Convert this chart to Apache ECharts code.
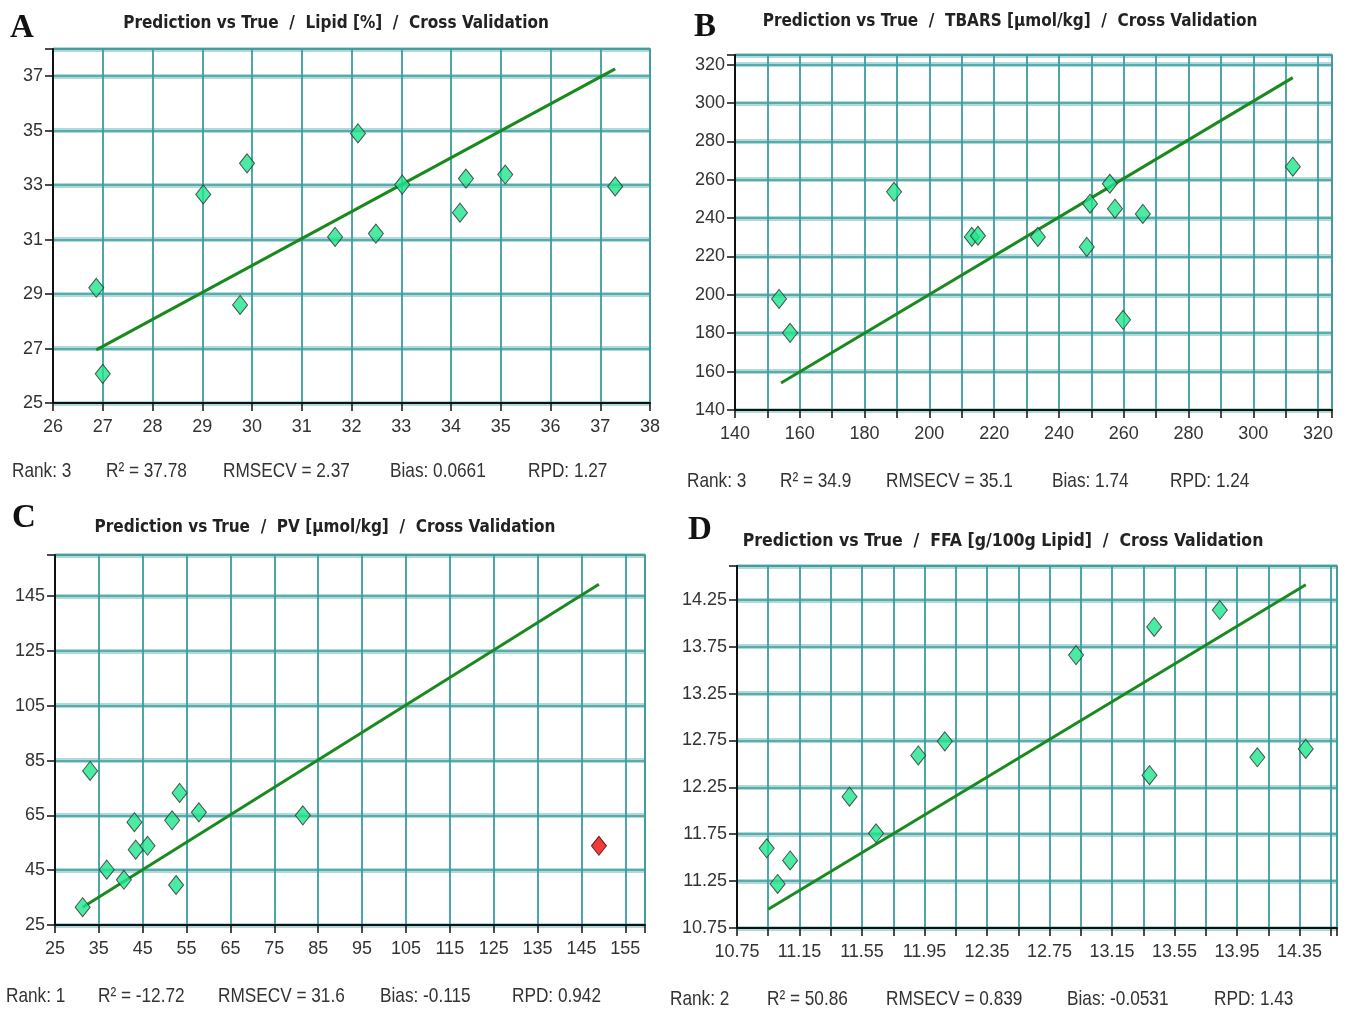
<!DOCTYPE html>
<html>
<head>
<meta charset="utf-8">
<style>
  html, body { margin: 0; padding: 0; background: #fff; }
  #chart { width: 1349px; height: 1015px; }
</style>
<script src="https://cdn.jsdelivr.net/npm/echarts@6/dist/echarts.min.js"></script>
</head>
<body>
<div id="chart"></div>
<script>
// Panel A - Lipid [%]
const lipidTrue = [26.87, 27.0, 29.02, 29.9, 29.76, 32.13, 31.67, 32.49, 33.02, 34.18, 34.3, 35.09, 37.3];
const lipidPred = [29.23, 26.07, 32.66, 33.8, 28.6, 34.9, 31.1, 31.22, 33.02, 31.99, 33.24, 33.39, 32.95];
const lipidFit = [[26.87, 26.95], [37.3, 37.27]];

// Panel B - TBARS [µmol/kg]
const tbarsTrue = [153.6, 157.0, 189.1, 213.1, 215.0, 233.5, 248.6, 249.6, 255.7, 257.3, 265.9, 259.8, 312.2];
const tbarsPred = [197.9, 180.2, 253.7, 230.2, 230.8, 230.2, 225.0, 247.5, 257.9, 244.9, 242.2, 187.0, 266.8];
const tbarsFit = [[154.2, 154.1], [312.2, 313.2]];

// Panel C - PV [µmol/kg], last sample flagged red
const pvTrue = [31.3, 33.0, 36.8, 40.7, 43.1, 43.4, 46.1, 51.7, 53.4, 52.6, 57.8, 81.5];
const pvPred = [31.5, 81.2, 45.2, 41.5, 62.5, 52.5, 53.9, 63.2, 73.2, 39.6, 66.1, 65.0];
const pvOutlier = [[149.0, 53.9]];
const pvFit = [[31.3, 31.5], [149.0, 149.3]];

// Panel D - FFA [g/100g Lipid]
const ffaTrue = [10.94, 11.01, 11.09, 11.47, 11.64, 11.91, 12.08, 12.92, 13.39, 13.42, 13.84, 14.08, 14.39];
const ffaPred = [11.60, 11.22, 11.47, 12.15, 11.76, 12.59, 12.74, 13.66, 12.38, 13.96, 14.14, 12.57, 12.66];
const ffaFit = [[10.95, 10.95], [14.39, 14.41]];

const titles = [
  "Prediction vs True  /  Lipid [%]  /  Cross Validation",
  "Prediction vs True  /  TBARS [µmol/kg]  /  Cross Validation",
  "Prediction vs True  /  PV [µmol/kg]  /  Cross Validation",
  "Prediction vs True  /  FFA [g/100g Lipid]  /  Cross Validation",
];
const letters = ["A", "B", "C", "D"];
const stats = [
  ["Rank: 3", "R² = 37.78", "RMSECV = 2.37", "Bias: 0.0661", "RPD: 1.27"],
  ["Rank: 3", "R² = 34.9", "RMSECV = 35.1", "Bias: 1.74", "RPD: 1.24"],
  ["Rank: 1", "R² = -12.72", "RMSECV = 31.6", "Bias: -0.115", "RPD: 0.942"],
  ["Rank: 2", "R² = 50.86", "RMSECV = 0.839", "Bias: -0.0531", "RPD: 1.43"],
];

// axis label values that are printed (others only get a grid line)
const xLabelsA = [26, 27, 28, 29, 30, 31, 32, 33, 34, 35, 36, 37, 38];
const yLabelsA = [25, 27, 29, 31, 33, 35, 37];
const xLabelsB = [140, 160, 180, 200, 220, 240, 260, 280, 300, 320];
const yLabelsB = [140, 160, 180, 200, 220, 240, 260, 280, 300, 320];
const xLabelsC = [25, 35, 45, 55, 65, 75, 85, 95, 105, 115, 125, 135, 145, 155];
const yLabelsC = [25, 45, 65, 85, 105, 125, 145];
const xLabelsD = [10.75, 11.15, 11.55, 11.95, 12.35, 12.75, 13.15, 13.55, 13.95, 14.35];
const yLabelsD = [10.75, 11.25, 11.75, 12.25, 12.75, 13.25, 13.75, 14.25];

const TEAL = "#3a9ea0";
const LABEL_FONT = "'Liberation Sans', Arial, sans-serif";

const panels = [
  { grid: { left: 53, top: 49, width: 597, height: 354 },
    x: { min: 26, max: 38, interval: 1, labels: xLabelsA, digits: 0 },
    y: { min: 25, max: 38, interval: 2, labels: yLabelsA, digits: 0 },
    titleX: 331, titleY: 10, letterX: 10, letterY: 28,
    statsY: 471, statsX: [12, 106, 223, 390, 528] },
  { grid: { left: 735, top: 55, width: 597, height: 355 },
    x: { min: 140, max: 324.3, interval: 10, labels: xLabelsB, digits: 0 },
    y: { min: 140, max: 325, interval: 20, labels: yLabelsB, digits: 0 },
    titleX: 1005, titleY: 8, letterX: 694, letterY: 27,
    statsY: 481, statsX: [687, 780, 886, 1052, 1170] },
  { grid: { left: 55, top: 555, width: 590, height: 370 },
    x: { min: 25, max: 159.5, interval: 10, labels: xLabelsC, digits: 0 },
    y: { min: 25, max: 160, interval: 20, labels: yLabelsC, digits: 0 },
    titleX: 320, titleY: 514, letterX: 12, letterY: 518,
    statsY: 996, statsX: [6, 98, 218, 380, 512] },
  { grid: { left: 737, top: 566, width: 600, height: 362 },
    x: { min: 10.75, max: 14.59, interval: 0.2, labels: xLabelsD, digits: 2 },
    y: { min: 10.75, max: 14.61, interval: 0.5, labels: yLabelsD, digits: 2 },
    titleX: 998, titleY: 527, letterX: 688, letterY: 530,
    statsY: 999, statsX: [670, 767, 886, 1067, 1214] },
];

function labelFormatter(axis) {
  return (v) => {
    const hit = axis.labels.some((l) => Math.abs(l - v) < 1e-6);
    return hit ? v.toFixed(axis.digits) : "";
  };
}

const grids = [];
const xAxes = [];
const yAxes = [];
panels.forEach((p, i) => {
  grids.push({ ...p.grid, show: true, borderColor: "#6b6b6b", borderWidth: 1.5, backgroundColor: "#fff" });
  const common = {
    type: "value",
    gridIndex: i,
    axisLine: { show: true, onZero: false, lineStyle: { color: "#111", width: 2 } },
    axisTick: { show: true, length: 8, lineStyle: { color: "#111", width: 1.5 } },
    axisLabel: { color: "#333", fontSize: 18, fontFamily: LABEL_FONT },
  };
  xAxes.push({
    ...common,
    min: p.x.min, max: p.x.max, interval: p.x.interval,
    axisLabel: { ...common.axisLabel, margin: 15, formatter: labelFormatter(p.x) },
    splitLine: { show: true, lineStyle: { color: TEAL, width: 1.8 } },
  });
  // wide pale band under each horizontal grid line
  yAxes.push({
    ...common,
    min: p.y.min, max: p.y.max, interval: p.y.interval,
    axisLabel: { ...common.axisLabel, margin: 10, formatter: labelFormatter(p.y) },
    splitLine: { show: true, lineStyle: { color: "rgba(80,170,170,0.45)", width: 5 } },
  });
  // darker core of the horizontal grid lines
  yAxes.push({
    type: "value", gridIndex: i,
    min: p.y.min, max: p.y.max, interval: p.y.interval,
    axisLine: { show: false }, axisTick: { show: false }, axisLabel: { show: false },
    splitLine: { show: true, lineStyle: { color: "#3c9c9c", width: 1.5 } },
  });
});

function zip(xs, ys) {
  return xs.map((x, k) => [x, ys[k]]);
}

const pointStyle = { color: "#1ee68c", borderColor: "#2b2b2b", borderWidth: 1 };

function fitSeries(i, data) {
  return {
    type: "line", xAxisIndex: i, yAxisIndex: i * 2, data,
    symbol: "none", z: 3,
    lineStyle: { color: "#1a8a1f", width: 3 },
  };
}
function pointSeries(i, data, style) {
  return {
    type: "scatter", xAxisIndex: i, yAxisIndex: i * 2, data,
    symbol: "diamond", symbolSize: [15, 19], z: 4,
    itemStyle: style,
  };
}

const series = [
  fitSeries(0, lipidFit), pointSeries(0, zip(lipidTrue, lipidPred), pointStyle),
  fitSeries(1, tbarsFit), pointSeries(1, zip(tbarsTrue, tbarsPred), pointStyle),
  fitSeries(2, pvFit), pointSeries(2, zip(pvTrue, pvPred), pointStyle),
  pointSeries(2, pvOutlier, { color: "#ee0a0a", borderColor: "#3a0000", borderWidth: 1 }),
  fitSeries(3, ffaFit), pointSeries(3, zip(ffaTrue, ffaPred), pointStyle),
];

const title = panels.map((p, i) => ({
  text: titles[i],
  left: p.titleX, top: p.titleY, textAlign: "center",
  textStyle: { fontFamily: "'DejaVu Sans Condensed', 'DejaVu Sans', sans-serif", fontWeight: "bold", fontSize: i === 3 ? 17.5 : 17, color: "#222" },
}));

const graphic = [];
panels.forEach((p, i) => {
  graphic.push({
    type: "text", x: p.letterX, y: p.letterY,
    style: { text: letters[i], font: "bold 33px 'Liberation Serif', serif", fill: "#111", verticalAlign: "middle" },
  });
  stats[i].forEach((s, k) => {
    graphic.push({
      type: "text", x: p.statsX[k], y: p.statsY, scaleX: 0.82,
      style: { text: s, font: "21px " + LABEL_FONT, fill: "#333", verticalAlign: "middle" },
    });
  });
});

const chart = echarts.init(document.getElementById("chart"));
chart.setOption({
  animation: false,
  backgroundColor: "#fff",
  title,
  grid: grids,
  xAxis: xAxes,
  yAxis: yAxes,
  series,
  graphic,
});
</script>
</body>
</html>
